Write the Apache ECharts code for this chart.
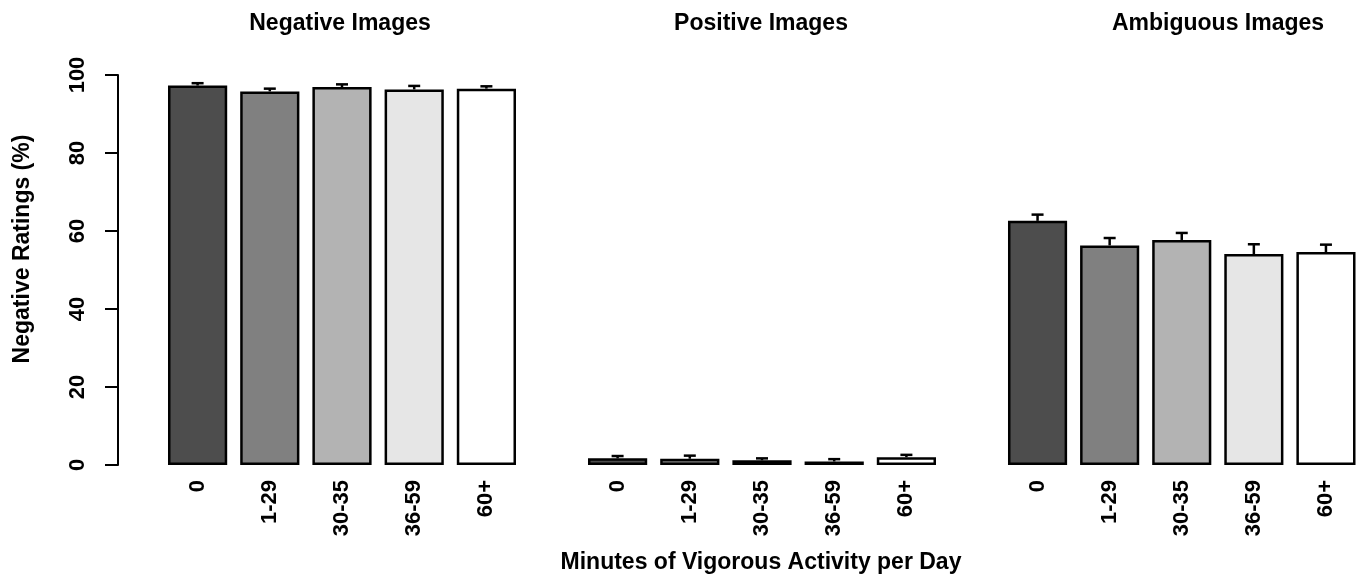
<!DOCTYPE html>
<html>
<head>
<meta charset="utf-8">
<script src="https://cdn.jsdelivr.net/npm/echarts@6/dist/echarts.min.js"></script>
<style>
html,body{margin:0;padding:0;background:#fff;}
#chart{width:1362px;height:579px;}
</style>
</head>
<body>
<div id="chart"></div>
<script>
const categories = ['0', '1-29', '30-35', '36-59', '60+'];
const panelTitles = ['Negative Images', 'Positive Images', 'Ambiguous Images'];
const negativeMeans = [97.3, 95.8, 96.9, 96.3, 96.5];
const negativeSE = [0.6, 0.7, 0.7, 0.9, 0.6];
const positiveMeans = [1.7, 1.6, 1.2, 0.9, 2.0];
const positiveSE = [0.6, 0.8, 0.5, 0.6, 0.6];
const ambiguousMeans = [62.6, 56.3, 57.7, 54.1, 54.6];
const ambiguousSE = [1.6, 1.9, 1.8, 2.5, 1.9];
const yTicks = [0, 20, 40, 60, 80, 100];
const barColors = ['#4d4d4d', '#808080', '#b3b3b3', '#e6e6e6', '#ffffff'];
const yTitle = 'Negative Ratings (%)';
const xTitle = 'Minutes of Vigorous Activity per Day';

const FONT = '"Liberation Sans", Arial, sans-serif';
const panels = [
  {means: negativeMeans, se: negativeSE, left: 161.5, titleX: 340},
  {means: positiveMeans, se: positiveSE, left: 581.5, titleX: 761},
  {means: ambiguousMeans, se: ambiguousSE, left: 1001.5, titleX: 1218}
];

const grids = [], xAxes = [], yAxes = [], series = [], titles = [];
panels.forEach((p, i) => {
  grids.push({left: p.left, width: 361, top: 75, height: 390, containLabel: false});
  xAxes.push({
    type: 'category', gridIndex: i, data: categories,
    axisLine: {show: false}, axisTick: {show: false}, splitLine: {show: false},
    axisLabel: {rotate: 90, margin: 15, color: '#000', fontSize: 22, fontWeight: 'bold', fontFamily: FONT, interval: 0}
  });
  yAxes.push({
    type: 'value', gridIndex: i, min: yTicks[0], max: yTicks[yTicks.length - 1], interval: 20,
    show: i === 0, offset: i === 0 ? p.left - 118 : 0,
    splitLine: {show: false},
    axisLine: {show: true, lineStyle: {color: '#000', width: 2}},
    axisTick: {show: true, length: 13, lineStyle: {color: '#000', width: 2}},
    axisLabel: {rotate: 90, margin: 29, color: '#000', fontSize: 22, fontWeight: 'bold', fontFamily: FONT}
  });
  series.push({
    type: 'bar', xAxisIndex: i, yAxisIndex: i,
    barCategoryGap: '18%',
    data: p.means.map((v, k) => ({value: v, itemStyle: {color: barColors[k]}})),
    itemStyle: {borderColor: '#000', borderWidth: 2.5},
    emphasis: {disabled: true},
    animation: false,
    z: 2
  });
  series.push({
    type: 'custom', xAxisIndex: i, yAxisIndex: i,
    data: p.means.map((v, k) => [k, v, v + p.se[k]]),
    renderItem: function (params, api) {
      const base = api.coord([api.value(0), api.value(1)]);
      const top = api.coord([api.value(0), api.value(2)]);
      const hw = 6;
      return {
        type: 'group',
        children: [
          {type: 'line', shape: {x1: base[0], y1: base[1], x2: top[0], y2: top[1]}, style: {stroke: '#000', lineWidth: 2.5}},
          {type: 'line', shape: {x1: top[0] - hw, y1: top[1], x2: top[0] + hw, y2: top[1]}, style: {stroke: '#000', lineWidth: 2.5}}
        ]
      };
    },
    animation: false,
    z: 1
  });
  titles.push({
    text: panelTitles[i], left: p.titleX, top: 12, textAlign: 'center', padding: 0,
    textStyle: {fontSize: 23, fontWeight: 'bold', color: '#000', fontFamily: FONT}
  });
});

const chart = echarts.init(document.getElementById('chart'), null, {renderer: 'canvas'});
chart.setOption({
  backgroundColor: '#fff',
  animation: false,
  title: titles,
  grid: grids,
  xAxis: xAxes,
  yAxis: yAxes,
  series: series,
  graphic: [
    {type: 'text', x: 23, y: 249, rotation: Math.PI / 2,
     style: {text: yTitle, font: 'bold 23px ' + FONT, fill: '#000', textAlign: 'center', textVerticalAlign: 'middle'}},
    {type: 'text', x: 761, y: 563,
     style: {text: xTitle, font: 'bold 23px ' + FONT, fill: '#000', textAlign: 'center', textVerticalAlign: 'middle'}}
  ]
});
</script>
</body>
</html>
